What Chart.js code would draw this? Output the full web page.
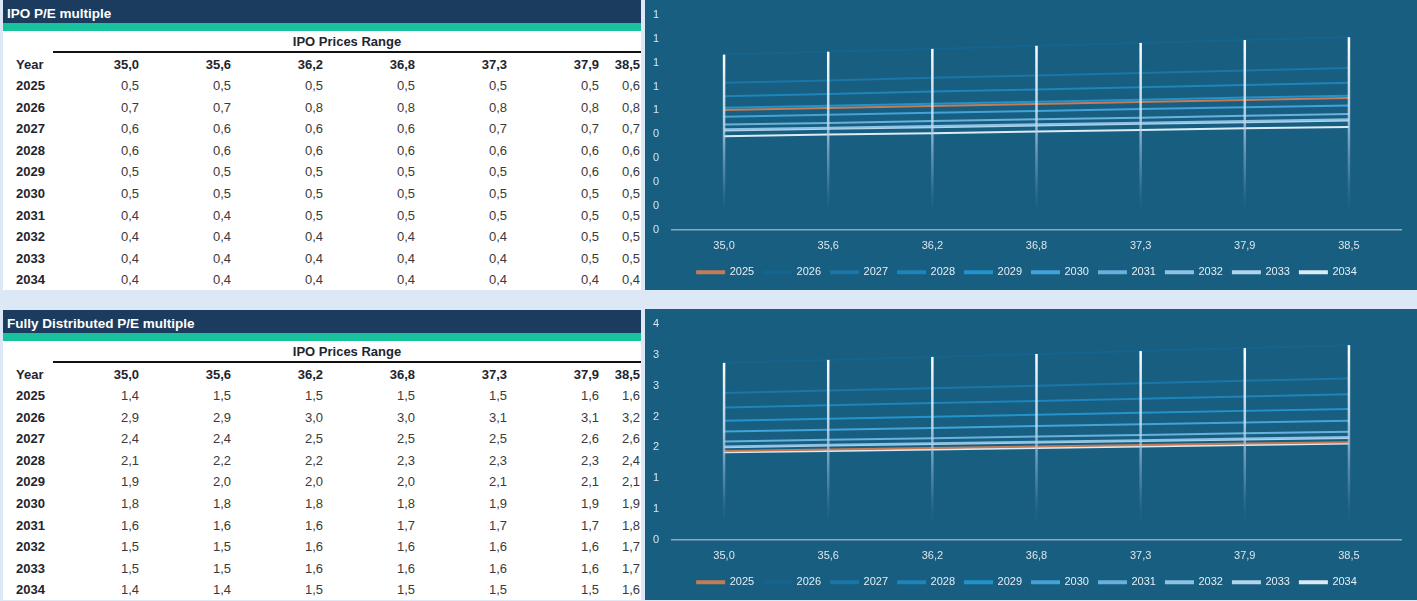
<!DOCTYPE html>
<html>
<head>
<meta charset="utf-8">
<title>P/E multiples</title>
<script src="https://cdn.jsdelivr.net/npm/chart.js@4.4.1/dist/chart.umd.min.js"></script>
<style>
    html, body { margin: 0; padding: 0; }
    body {
        width: 1417px; height: 601px; overflow: hidden;
        background: #dce8f6; position: relative;
        font-family: "Liberation Sans", Arial, sans-serif;
    }
    .tbl { position: absolute; left: 3px; width: 638px; height: 290px; background: #fff; }
    .tbl .title {
        height: 23px; line-height: 27px; background: #1b3b5f; color: #fff;
        font-weight: bold; font-size: 13.5px; padding-left: 4px;
    }
    .tbl .stripe { height: 8px; background: #18c29c; }
    .tbl .range {
        position: absolute; top: 33px; left: 50px; width: 588px; height: 18px;
        line-height: 18px; text-align: center; font-weight: bold; font-size: 13px;
        color: #1d2530; border-bottom: 2px solid #111;
    }
    .tbl .rows { position: absolute; top: 53.5px; left: 0; }
    .tbl .row {
        display: grid; grid-template-columns: 44px repeat(6, 92px) 42px;
        height: 21.6px; line-height: 21.6px; font-size: 13px;
    }
    .tbl .row div { text-align: right; color: #3a3a3a; }
    .tbl .row div:last-child { padding-right: 1px; }
    .tbl .row div.yr { text-align: left; padding-left: 13px; font-weight: bold; color: #1d2530; }
    .tbl .row.head div { font-weight: bold; color: #1d2530; }
    .chart { position: absolute; left: 645px; width: 772px; background: #175e80; }
</style>
</head>
<body>
<div class="tbl" id="tbl-ipo" style="top:0"></div>
<div class="tbl" id="tbl-fd" style="top:310px"></div>
<div class="chart" style="top:0;height:290px"><canvas id="chart-ipo"></canvas></div>
<div class="chart" style="top:309px;height:291px"><canvas id="chart-fd"></canvas></div>
<script>
// IPO price range (x axis) and the years shown as series
const PRICES = ['35,0', '35,6', '36,2', '36,8', '37,3', '37,9', '38,5'];
const YEARS = ['2025', '2026', '2027', '2028', '2029', '2030', '2031', '2032', '2033', '2034'];

// IPO P/E multiple, one row per year, one value per price
const IPO_PE = [
    [0.502, 0.510, 0.519, 0.527, 0.535, 0.544, 0.552],
    [0.734, 0.746, 0.758, 0.771, 0.783, 0.795, 0.807],
    [0.616, 0.626, 0.637, 0.647, 0.657, 0.667, 0.678],
    [0.560, 0.569, 0.579, 0.588, 0.597, 0.607, 0.616],
    [0.511, 0.520, 0.528, 0.537, 0.545, 0.554, 0.562],
    [0.474, 0.482, 0.490, 0.498, 0.506, 0.513, 0.521],
    [0.441, 0.448, 0.456, 0.463, 0.470, 0.478, 0.485],
    [0.421, 0.428, 0.435, 0.442, 0.449, 0.456, 0.463],
    [0.416, 0.423, 0.430, 0.437, 0.444, 0.451, 0.458],
    [0.392, 0.399, 0.405, 0.412, 0.418, 0.425, 0.431]
];

// Fully distributed P/E multiple
const FD_PE = [
    [1.440, 1.464, 1.488, 1.512, 1.536, 1.560, 1.584],
    [2.870, 2.918, 2.966, 3.014, 3.061, 3.109, 3.157],
    [2.380, 2.420, 2.459, 2.499, 2.539, 2.578, 2.618],
    [2.146, 2.182, 2.218, 2.253, 2.289, 2.325, 2.361],
    [1.930, 1.962, 1.994, 2.027, 2.059, 2.091, 2.123],
    [1.756, 1.785, 1.815, 1.844, 1.873, 1.902, 1.932],
    [1.594, 1.621, 1.647, 1.674, 1.700, 1.727, 1.753],
    [1.515, 1.540, 1.565, 1.591, 1.616, 1.641, 1.667],
    [1.503, 1.528, 1.553, 1.578, 1.603, 1.628, 1.653],
    [1.418, 1.442, 1.465, 1.489, 1.513, 1.536, 1.560]
];

const SERIES_COLORS = ['#c47c55', '#15648e', '#1a76a7', '#1e84b9', '#2393cb',
                       '#43a2d7', '#68b1dc', '#8cc2e4', '#b2d5ed', '#dbebf6'];

function fmt(v){
    return v.toFixed(1).replace('.', ',');
}

function buildTable(elId, title, rows){
    const el = document.getElementById(elId);
    let html = `<div class="title">${title}</div><div class="stripe"></div>`;
    html += `<div class="range">IPO Prices Range</div><div class="rows">`;
    html += `<div class="row head"><div class="yr">Year</div>`;
    PRICES.forEach(p => { html += `<div>${p}</div>`; });
    html += `</div>`;
    rows.forEach((r, i) => {
        html += `<div class="row"><div class="yr">${YEARS[i]}</div>`;
        r.forEach(v => { html += `<div>${fmt(v)}</div>`; });
        html += `</div>`;
    });
    html += `</div>`;
    el.innerHTML = html;
}

// white fading lines dropped from the top series at each price
const dropLines = {
    id: 'dropLines',
    afterDatasetsDraw(chart){
        const {ctx, chartArea, scales: {x, y}} = chart;
        ctx.save();
        chart.data.labels.forEach((lbl, i) => {
            const top = Math.max(...chart.data.datasets.map(d => d.data[i]));
            const px = x.getPixelForValue(i);
            const y0 = y.getPixelForValue(top);
            const y1 = chartArea.bottom - 10;
            const g = ctx.createLinearGradient(0, y0, 0, y1);
            g.addColorStop(0, 'rgba(255,255,255,1)');
            g.addColorStop(0.4, 'rgba(205,225,242,0.85)');
            g.addColorStop(0.75, 'rgba(120,160,205,0.45)');
            g.addColorStop(1, 'rgba(40,90,160,0)');
            ctx.strokeStyle = g;
            ctx.lineWidth = 2.5;
            ctx.beginPath();
            ctx.moveTo(px, y0);
            ctx.lineTo(px, y1);
            ctx.stroke();
        });
        ctx.restore();
    }
};

function createChart(canvasId, rows, yMax, yStep){
    const ctx = document.getElementById(canvasId);
    return new Chart(ctx, {
        type    : 'line',
        data    : {
            labels  : PRICES,
            datasets: rows.map((r, i) => ({
                label: YEARS[i],
                data: r,
                borderColor: SERIES_COLORS[i],
                backgroundColor: SERIES_COLORS[i],
                borderWidth: 2,
                pointRadius: 0,
                tension: 0
            }))
        },
        options : {
            responsive: true,
            maintainAspectRatio: false,
            animation: false,
            layout: { padding: { left: 8, right: 16, top: 15, bottom: 2.2 } },
            plugins: {
                tooltip: { enabled: false },
                legend: {
                    position: 'bottom',
                    labels: {
                        color: '#e6eef4',
                        boxWidth: 27,
                        boxHeight: 2,
                        padding: 10,
                        font: { family: 'Liberation Sans', size: 11 }
                    }
                }
            },
            scales  : {
                x   : {
                    offset: true,
                    grid: { display: false, drawTicks: false },
                    border: { display: true, color: '#8fa7b8', width: 1.5 },
                    ticks: {
                        color: '#dde6ec',
                        padding: 10,
                        font: { family: 'Liberation Sans', size: 11 }
                    },
                    afterFit: s => { s.height = 27; }
                },
                y   : {
                    min: 0,
                    max: yMax,
                    grid: { display: false, drawTicks: false },
                    border: { display: false },
                    ticks: {
                        stepSize: yStep,
                        color: '#dde6ec',
                        padding: 13,
                        font: { family: 'Liberation Sans', size: 11 },
                        callback: v => Math.round(Math.round(v * 10) / 10)
                    },
                    afterFit: s => {
                        s.width = 19;
                        s.paddingTop = 0;
                        s.paddingBottom = 0;
                    }
                }
            }
        },
        plugins: [dropLines]
    });
}

buildTable('tbl-ipo', 'IPO P/E multiple', IPO_PE);
buildTable('tbl-fd', 'Fully Distributed P/E multiple', FD_PE);
createChart('chart-ipo', IPO_PE, 0.9, 0.1);
createChart('chart-fd', FD_PE, 3.5, 0.5);
</script>
</body>
</html>
